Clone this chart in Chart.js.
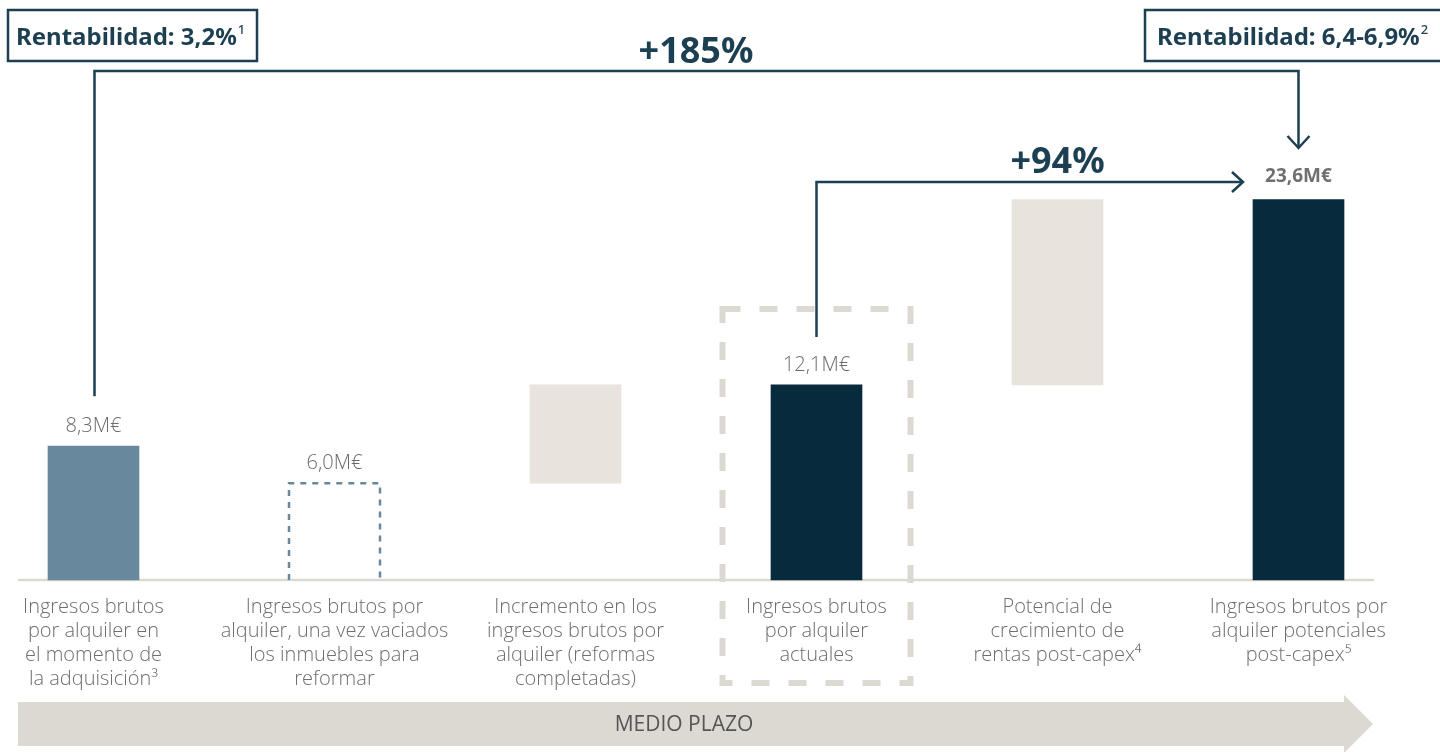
<!DOCTYPE html>
<html>
<head>
<meta charset="utf-8">
<script src="https://cdn.jsdelivr.net/npm/chart.js@4"></script>
<style>
  html, body { margin: 0; padding: 0; background: #fff; }
  #wrap { position: relative; width: 1440px; height: 752px; }
</style>
</head>
<body>
<div id="wrap"><canvas id="myChart" width="1440" height="752"></canvas></div>
<script>
// chart data
const categories = [
  ['Ingresos brutos', 'por alquiler en', 'el momento de', 'la adquisición³'],
  ['Ingresos brutos por', 'alquiler, una vez vaciados', 'los inmuebles para', 'reformar'],
  ['Incremento en los', 'ingresos brutos por', 'alquiler (reformas', 'completadas)'],
  ['Ingresos brutos', 'por alquiler', 'actuales'],
  ['Potencial de', 'crecimiento de', 'rentas post-capex⁴'],
  ['Ingresos brutos por', 'alquiler potenciales', 'post-capex⁵']
];
const barStart = [0, 0, 6.0, 0, 12.1, 0];
const barEnd = [8.3, 6.0, 12.1, 12.1, 23.6, 23.6];
const valueLabels = ['8,3M€', '6,0M€', '', '12,1M€', '', '23,6M€'];
const yieldLabels = ['Rentabilidad: 3,2%', 'Rentabilidad: 6,4-6,9%'];
const yieldNotes = ['1', '2'];
const growthLabels = ['+185%', '+94%'];
const bandLabel = 'MEDIO PLAZO';

const barColors = ['#68889d', 'rgba(0,0,0,0)', '#e8e4dd', '#082a3d', '#e8e4dd', '#082a3d'];
const NAVY = '#1d3f52';
const SAND = '#dcd9d2';
const LIGHT = '"Open Sans", sans-serif';
const BOLD = '"Noto Sans", sans-serif';

function chevron(ctx, x, y, dir) {
  // little open arrow head, dir = 'down' or 'right'
  ctx.beginPath();
  if (dir == 'down') {
    ctx.moveTo(x - 11, y - 12); ctx.lineTo(x, y); ctx.lineTo(x + 11, y - 12);
  } else {
    ctx.moveTo(x - 11, y - 10); ctx.lineTo(x, y); ctx.lineTo(x - 11, y + 10);
  }
  ctx.stroke();
}

const overlay = {
  id: 'overlay',
  beforeDatasetsDraw(chart) {
    const ctx = chart.ctx;
    const area = chart.chartArea;
    const bars = chart.getDatasetMeta(0).data;
    ctx.save();
    // highlight box around current income
    const h = bars[3];
    ctx.strokeStyle = SAND;
    ctx.lineWidth = 6;
    ctx.setLineDash([18, 19]);
    ctx.strokeRect(h.x - 94, 309, 188, 374);
    ctx.setLineDash([]);
    // base line
    ctx.strokeStyle = SAND;
    ctx.lineWidth = 2.5;
    ctx.beginPath();
    ctx.moveTo(18, area.bottom);
    ctx.lineTo(1374, area.bottom);
    ctx.stroke();
    ctx.restore();
  },
  afterDatasetsDraw(chart) {
    const ctx = chart.ctx;
    const bars = chart.getDatasetMeta(0).data;
    ctx.save();

    // dashed outline bar (vacated)
    const b = bars[1];
    ctx.strokeStyle = '#68889d';
    ctx.lineWidth = 2.5;
    ctx.setLineDash([6, 6]);
    ctx.beginPath();
    ctx.moveTo(b.x - b.width / 2, b.base);
    ctx.lineTo(b.x - b.width / 2, b.y);
    ctx.lineTo(b.x + b.width / 2, b.y);
    ctx.lineTo(b.x + b.width / 2, b.base);
    ctx.stroke();
    ctx.setLineDash([]);

    // value labels
    ctx.textAlign = 'center';
    ctx.textBaseline = 'alphabetic';
    for (let i = 0; i < bars.length; i++) {
      if (valueLabels[i] == '') continue;
      if (i == bars.length - 1) {
        ctx.font = '700 19px ' + BOLD;
        ctx.fillStyle = '#707070';
        ctx.fillText(valueLabels[i], bars[i].x, bars[i].y - 18);
      } else {
        ctx.font = '300 20px ' + LIGHT;
        ctx.fillStyle = '#6b6b6b';
        ctx.fillText(valueLabels[i], bars[i].x, bars[i].y - 14);
      }
    }

    // +185% arrow
    ctx.strokeStyle = NAVY;
    ctx.lineWidth = 2.5;
    ctx.beginPath();
    ctx.moveTo(bars[0].x + 1, bars[0].y - 50);
    ctx.lineTo(bars[0].x + 1, 71);
    ctx.lineTo(bars[5].x, 71);
    ctx.lineTo(bars[5].x, 148);
    ctx.stroke();
    chevron(ctx, bars[5].x, 148, 'down');

    // +94% arrow
    const end94 = bars[5].x - bars[5].width / 2 - 10;
    ctx.beginPath();
    ctx.moveTo(bars[3].x, bars[3].y - 48);
    ctx.lineTo(bars[3].x, 182);
    ctx.lineTo(end94, 182);
    ctx.stroke();
    chevron(ctx, end94, 182, 'right');

    ctx.fillStyle = NAVY;
    ctx.font = '700 36px ' + BOLD;
    ctx.fillText(growthLabels[0], (bars[0].x + bars[5].x) / 2, 63);
    ctx.fillText(growthLabels[1], bars[4].x, 173);

    // yield boxes
    ctx.lineWidth = 2.5;
    ctx.strokeStyle = NAVY;
    ctx.strokeRect(8, 10, 249, 51);
    ctx.strokeRect(1145, 10, 320, 51);
    ctx.textAlign = 'left';
    const starts = [16, 1157];
    for (let i = 0; i < 2; i++) {
      ctx.font = '700 24px ' + BOLD;
      ctx.fillText(yieldLabels[i], starts[i], 45);
      const w = ctx.measureText(yieldLabels[i]).width;
      ctx.font = '500 13px ' + BOLD;
      ctx.fillText(yieldNotes[i], starts[i] + w + 1, 34);
    }

    // bottom band
    ctx.fillStyle = SAND;
    ctx.beginPath();
    ctx.moveTo(18, 702);
    ctx.lineTo(1344, 702);
    ctx.lineTo(1344, 695);
    ctx.lineTo(1373, 724);
    ctx.lineTo(1344, 753);
    ctx.lineTo(1344, 746);
    ctx.lineTo(18, 746);
    ctx.closePath();
    ctx.fill();
    ctx.fillStyle = '#555555';
    ctx.font = '400 21px ' + LIGHT;
    ctx.textAlign = 'center';
    ctx.textBaseline = 'middle';
    ctx.fillText(bandLabel, 684, 725);

    ctx.restore();
  }
};

const ctx = document.getElementById('myChart');
const myChart = new Chart(ctx, {
  type: 'bar',
  data: {
    labels: categories,
    datasets: [{
      data: barStart.map((s, i) => [s, barEnd[i]]),
      backgroundColor: barColors,
      borderWidth: 0,
      borderSkipped: false,
      barThickness: 91,
      clip: false
    }]
  },
  options: {
    responsive: false,
    animation: false,
    layout: { padding: { left: 93.5, right: 141.5, top: 177, bottom: 0 } },
    plugins: { legend: { display: false }, tooltip: { enabled: false } },
    scales: {
      x: {
        offset: false,
        grid: { display: false },
        border: { display: false },
        afterFit: (scale) => { scale.height = 172; },
        ticks: {
          autoSkip: false,
          maxRotation: 0,
          minRotation: 0,
          padding: 7,
          color: '#6e6e6e',
          font: { family: LIGHT, size: 20, weight: 300, lineHeight: 1.2 }
        }
      },
      y: {
        display: false,
        min: 0,
        max: 25
      }
    }
  },
  plugins: [overlay]
});
</script>
</body>
</html>
